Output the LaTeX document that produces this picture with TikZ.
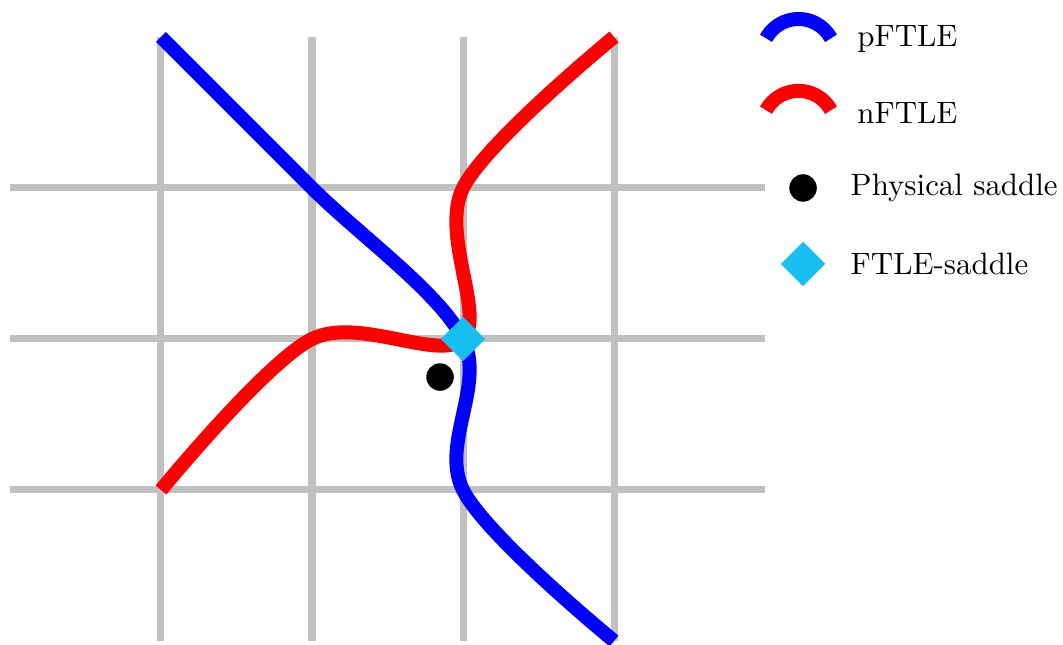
\documentclass[tikz,border=0pt]{standalone}
\usepackage{graphicx}
\usetikzlibrary{shapes.geometric}
\definecolor{gridgray}{RGB}{192,192,192}
\definecolor{saddlecyan}{RGB}{23,190,240}
\newcommand{\legfont}[1]{\scalebox{0.88}{\fontsize{10}{12}\selectfont #1}}
\begin{document}
\begin{tikzpicture}[x=1.51cm,y=1.51cm,
  gridline/.style={gridgray, line width=0.07cm},
  pline/.style={blue, line width=0.14cm},
  nline/.style={red, line width=0.14cm},
  physdot/.style={circle, fill=black, inner sep=0pt, minimum size=0.275cm},
  ftlesad/.style={diamond, fill=saddlecyan, inner sep=0pt, minimum width=0.45cm, minimum height=0.45cm},
  legtext/.style={anchor=base west, inner sep=0pt}]
\useasboundingbox (-0.0662,-0.0265) rectangle (6.9735,4.2450);
% grid
\foreach \x in {1,...,4} \draw[gridline] (\x,0) -- (\x,4);
\foreach \y in {1,2,3} \draw[gridline] (0,\y) -- (5,\y);
% FTLE ridges
\draw[pline] plot[smooth, tension=0.55] coordinates {(1,4) (2,3) (3,2) (3,1) (4,0)};
\draw[nline] plot[smooth, tension=0.55] coordinates {(1,1) (2,2) (3,2) (3,3) (4,4)};
% saddles
\node[physdot] (phys) at (2.848,1.748) {};
\node[ftlesad] (ftle) at (3,2) {};
% legend
\draw[pline] ([shift={(151.4:0.37cm)}]5.222,3.874) arc[start angle=151.4, end angle=28.6, radius=0.37cm];
\draw[nline] ([shift={(151.4:0.37cm)}]5.222,3.398) arc[start angle=151.4, end angle=28.6, radius=0.37cm];
\node[physdot] (legphys) at (5.252,3.0) {};
\node[ftlesad] (legftle) at (5.252,2.497) {};
\node[legtext] (tp) at (5.607,3.934) {\legfont{pFTLE}};
\node[legtext] (tn) at (5.607,3.424) {\legfont{nFTLE}};
\node[legtext] (tphys) at (5.563,2.947) {\legfont{Physical saddle}};
\node[legtext] (tftle) at (5.563,2.430) {\legfont{FTLE-saddle}};
\end{tikzpicture}
\end{document}
